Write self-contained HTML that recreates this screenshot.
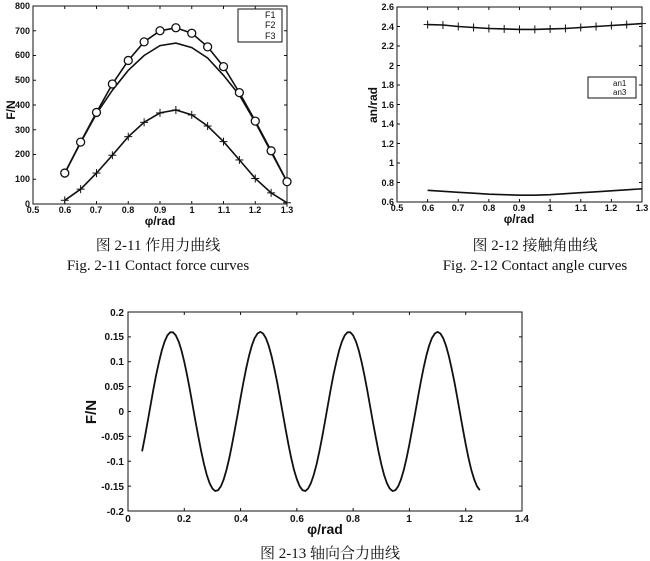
<!DOCTYPE html>
<html><head><meta charset="utf-8"><style>
body{margin:0;background:#fff;width:650px;height:561px;overflow:hidden}
svg{position:absolute;left:0;top:0}
.t{font-family:"Liberation Sans",sans-serif;font-size:9px;font-weight:bold;fill:#111}
.l{font-family:"Liberation Sans",sans-serif;font-size:12px;font-weight:bold;fill:#111}
.c{font-family:"Liberation Serif","Noto Serif CJK SC",serif;font-size:15px;fill:#111}
</style></head><body>
<svg id="s" width="650" height="561" viewBox="0 0 650 561">
<g fill="none" stroke="#111" stroke-width="1">
<rect x="33" y="6" width="254" height="198"/>
<rect x="397" y="7" width="245" height="195"/>
<rect x="128" y="312" width="394" height="199"/>
</g>
<g id="g"></g>
<g class="t" text-anchor="end">
<text x="30" y="9">800</text><text x="30" y="34">700</text><text x="30" y="58">600</text><text x="30" y="83">500</text><text x="30" y="108">400</text><text x="30" y="133">300</text><text x="30" y="157">200</text><text x="30" y="182">100</text><text x="30" y="207">0</text>
</g>
<g class="t" text-anchor="middle">
<text x="33" y="213">0.5</text><text x="65" y="213">0.6</text><text x="96" y="213">0.7</text><text x="128" y="213">0.8</text><text x="160" y="213">0.9</text><text x="192" y="213">1</text><text x="224" y="213">1.1</text><text x="255" y="213">1.2</text><text x="287" y="213">1.3</text>
</g>
<text class="l" x="160" y="225" text-anchor="middle">φ/rad</text>
<text class="l" x="15" y="110" text-anchor="middle" transform="rotate(-90 15 110)">F/N</text>
<rect x="238" y="9" width="44" height="33" fill="#fff" stroke="#111"/>
<g class="t" style="font-size:9px;font-weight:normal"><text x="265" y="18">F1</text><text x="265" y="28">F2</text><text x="265" y="39">F3</text></g>
<text class="c" x="158" y="250" text-anchor="middle">图 2-11  作用力曲线</text>
<text class="c" x="158" y="270" text-anchor="middle">Fig. 2-11 Contact force curves</text>
<g class="t" text-anchor="end">
<text x="394" y="10">2.6</text><text x="394" y="30">2.4</text><text x="394" y="49">2.2</text><text x="394" y="69">2</text><text x="394" y="88">1.8</text><text x="394" y="108">1.6</text><text x="394" y="127">1.4</text><text x="394" y="147">1.2</text><text x="394" y="166">1</text><text x="394" y="186">0.8</text><text x="394" y="205">0.6</text>
</g>
<g class="t" text-anchor="middle">
<text x="397" y="211">0.5</text><text x="428" y="211">0.6</text><text x="458" y="211">0.7</text><text x="489" y="211">0.8</text><text x="519" y="211">0.9</text><text x="550" y="211">1</text><text x="581" y="211">1.1</text><text x="611" y="211">1.2</text><text x="642" y="211">1.3</text>
</g>
<text class="l" x="519" y="223" text-anchor="middle">φ/rad</text>
<text class="l" x="377" y="105" text-anchor="middle" transform="rotate(-90 377 105)">an/rad</text>
<rect x="588" y="77" width="48" height="21" fill="#fff" stroke="#111"/>
<g class="t" style="font-size:8px;font-weight:normal"><text x="613" y="86">an1</text><text x="613" y="95">an3</text></g>
<text class="c" x="535" y="250" text-anchor="middle">图 2-12  接触角曲线</text>
<text class="c" x="535" y="270" text-anchor="middle">Fig. 2-12 Contact angle curves</text>
<g class="t" text-anchor="end" style="font-size:10px">
<text x="124" y="316">0.2</text><text x="124" y="340">0.15</text><text x="124" y="365">0.1</text><text x="124" y="390">0.05</text><text x="124" y="415">0</text><text x="124" y="440">-0.05</text><text x="124" y="465">-0.1</text><text x="124" y="490">-0.15</text><text x="124" y="515">-0.2</text>
</g>
<g class="t" text-anchor="middle" style="font-size:10px">
<text x="128" y="522">0</text><text x="184" y="522">0.2</text><text x="241" y="522">0.4</text><text x="297" y="522">0.6</text><text x="353" y="522">0.8</text><text x="409" y="522">1</text><text x="466" y="522">1.2</text><text x="522" y="522">1.4</text>
</g>
<text class="l" x="325" y="534" text-anchor="middle" style="font-size:14px">φ/rad</text>
<text class="l" x="96" y="412" text-anchor="middle" transform="rotate(-90 96 412)" style="font-size:15px">F/N</text>
<text class="c" x="330" y="558" text-anchor="middle">图 2-13 轴向合力曲线</text>
</svg>
<script>
var g=document.getElementById('g'),h='';
function pl(pts,w){h+='<polyline fill="none" stroke="#111" stroke-width="'+(w||1.6)+'" points="'+pts.map(p=>p[0].toFixed(1)+','+p[1].toFixed(1)).join(' ')+'"/>';}
function ln(a,b,c,d){h+='<line x1="'+a+'" y1="'+b+'" x2="'+c+'" y2="'+d+'" stroke="#111" stroke-width="1"/>';}
function ticks(x0,x1,y0,y1,nx,ny){for(var i=0;i<=nx;i++){var x=x0+(x1-x0)*i/nx;ln(x,y1,x,y1-3);ln(x,y0,x,y0+3);}for(var j=0;j<=ny;j++){var y=y0+(y1-y0)*j/ny;ln(x0,y,x0+3,y);ln(x1,y,x1-3,y);}}
ticks(33,287,6,204,8,8);ticks(397,642,7,202,8,10);ticks(128,522,312,511,7,8);
var xs=[];for(var i=0;i<15;i++)xs.push(0.6+0.05*i);
var F1=[125,248,365,460,540,600,640,650,632,590,520,440,330,210,90];
var F2=[15,60,125,197,272,330,368,380,360,315,252,178,103,45,5];
var F3=[125,250,370,485,580,655,700,712,690,635,555,450,335,215,90];
function m1(x,y){return[33+(x-0.5)/0.8*254,204-y/800*198];}
pl(xs.map((x,i)=>m1(x,F1[i])));pl(xs.map((x,i)=>m1(x,F2[i])));pl(xs.map((x,i)=>m1(x,F3[i])));
xs.forEach((x,i)=>{var p=m1(x,F2[i]);ln(p[0]-4,p[1],p[0]+4,p[1]);ln(p[0],p[1]-4,p[0],p[1]+4);
 var q=m1(x,F3[i]);h+='<circle cx="'+q[0]+'" cy="'+q[1]+'" r="4" fill="#fff" stroke="#111" stroke-width="1.3"/>';});
ln(242,15,262,15);ln(242,25,262,25);ln(252,21,252,29);ln(242,36,262,36);h+='<circle cx="252" cy="36" r="3.5" fill="#fff" stroke="#111"/>';
var A1=[0.72,0.71,0.70,0.69,0.68,0.675,0.67,0.67,0.675,0.685,0.695,0.705,0.715,0.725,0.735];
var A3=[2.42,2.415,2.40,2.39,2.38,2.375,2.37,2.37,2.375,2.38,2.39,2.40,2.41,2.42,2.43];
function m2(x,y){return[397+(x-0.5)/0.8*245,202-(y-0.6)/2*195];}
pl(xs.map((x,i)=>m2(x,A1[i])));pl(xs.map((x,i)=>m2(x,A3[i])));
xs.forEach((x,i)=>{var p=m2(x,A3[i]);ln(p[0]-4,p[1],p[0]+4,p[1]);ln(p[0],p[1]-4,p[0],p[1]+4);});
ln(592,84,610,84);ln(592,93,610,93);ln(601,89,601,97);
var P=[];for(var x=0.05;x<=1.2501;x+=0.01){var y=0.16*Math.sin(2*Math.PI*(x-0.155)/0.315+Math.PI/2);P.push([128+x/1.4*394,411.5-y/0.4*199]);}
pl(P,1.8);
g.innerHTML=h;
</script>
</body></html>
